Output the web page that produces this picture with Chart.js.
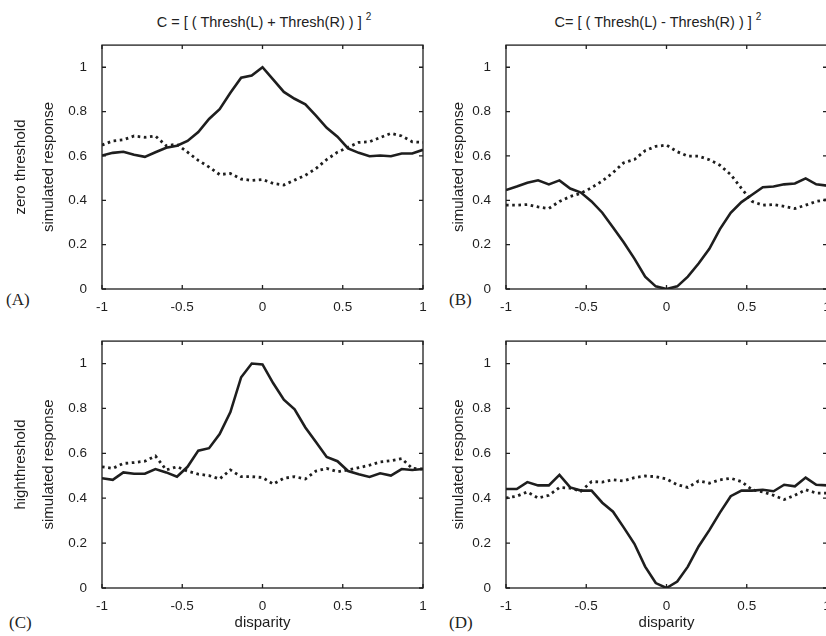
<!DOCTYPE html>
<html><head><meta charset="utf-8">
<script src="https://cdn.jsdelivr.net/npm/chart.js@4"></script>
<style>
html,body{margin:0;padding:0;width:826px;height:636px;overflow:hidden;background:#fff}
body{position:relative}
.cv{position:absolute}
.ttl{position:absolute;top:9px;font-family:"Liberation Sans",Arial,sans-serif;font-size:14.5px;line-height:18px;color:#222;white-space:nowrap;transform:translateX(-50%)}
.ttl sup{font-size:10px;position:relative;top:-1px}
.pl{position:absolute;font-family:"Liberation Serif","Times New Roman",serif;font-size:17px;line-height:18px;color:#222}
</style></head>
<body>
<div class="ttl" style="left:264px">C = [ ( Thresh(L) + Thresh(R) ) ] <sup>2</sup></div>
<div class="ttl" style="left:658px">C= [ ( Thresh(L) - Thresh(R) ) ] <sup>2</sup></div>
<div class="pl" style="left:6px;top:291px">(A)</div>
<div class="pl" style="left:449px;top:291px">(B)</div>
<div class="pl" style="left:9px;top:614px">(C)</div>
<div class="pl" style="left:449px;top:614px">(D)</div>
<canvas id="cA" class="cv" width="440" height="290" style="left:0;top:30px"></canvas>
<canvas id="cB" class="cv" width="400" height="290" style="left:440px;top:30px"></canvas>
<canvas id="cC" class="cv" width="440" height="310" style="left:0;top:326px"></canvas>
<canvas id="cD" class="cv" width="400" height="310" style="left:440px;top:326px"></canvas>
<script>
// ---- data ----
const disparity = [-1, -0.933, -0.867, -0.8, -0.733, -0.667, -0.6, -0.533, -0.467, -0.4, -0.333, -0.267, -0.2, -0.133, -0.067, 0, 0.067, 0.133, 0.2, 0.267, 0.333, 0.4, 0.467, 0.533, 0.6, 0.667, 0.733, 0.8, 0.867, 0.933, 1];

const sumZeroSolid  = [0.602,0.614,0.619,0.605,0.596,0.617,0.637,0.646,0.668,0.708,0.767,0.811,0.885,0.953,0.963,1.0,0.944,0.889,0.858,0.833,0.782,0.727,0.687,0.634,0.614,0.599,0.602,0.599,0.611,0.611,0.628];
const sumZeroDotted = [0.649,0.668,0.673,0.690,0.684,0.690,0.646,0.653,0.617,0.580,0.550,0.516,0.521,0.496,0.490,0.494,0.476,0.469,0.491,0.513,0.543,0.584,0.617,0.639,0.661,0.664,0.683,0.702,0.690,0.664,0.661];

const diffZeroSolid  = [0.446,0.462,0.479,0.490,0.472,0.490,0.453,0.435,0.395,0.344,0.277,0.211,0.137,0.056,0.012,0.0,0.012,0.056,0.115,0.181,0.270,0.344,0.392,0.425,0.459,0.462,0.472,0.476,0.499,0.472,0.466];
const diffZeroDotted = [0.378,0.378,0.381,0.370,0.363,0.395,0.417,0.432,0.457,0.487,0.525,0.569,0.584,0.624,0.643,0.649,0.619,0.599,0.599,0.583,0.558,0.516,0.454,0.395,0.378,0.381,0.373,0.363,0.378,0.395,0.403];

const sumHighSolid  = [0.489,0.482,0.515,0.509,0.509,0.530,0.515,0.496,0.540,0.612,0.623,0.686,0.784,0.939,1.0,0.996,0.912,0.839,0.796,0.715,0.650,0.584,0.565,0.521,0.507,0.495,0.511,0.501,0.530,0.526,0.530];
const sumHighDotted = [0.540,0.533,0.555,0.559,0.565,0.588,0.526,0.540,0.521,0.507,0.501,0.486,0.526,0.496,0.496,0.492,0.463,0.489,0.496,0.486,0.521,0.533,0.518,0.526,0.536,0.547,0.562,0.567,0.576,0.533,0.530];

const diffHighSolid  = [0.441,0.441,0.472,0.457,0.457,0.504,0.448,0.434,0.434,0.380,0.340,0.270,0.197,0.095,0.022,0.0,0.029,0.095,0.185,0.258,0.336,0.409,0.434,0.434,0.438,0.431,0.460,0.453,0.492,0.460,0.457];
const diffHighDotted = [0.401,0.409,0.428,0.401,0.413,0.448,0.445,0.431,0.474,0.472,0.482,0.477,0.492,0.499,0.496,0.486,0.460,0.448,0.477,0.467,0.482,0.489,0.474,0.438,0.428,0.413,0.394,0.413,0.438,0.423,0.423];

const xTicks = [-1, -0.5, 0, 0.5, 1];
const yTicks = [0, 0.2, 0.4, 0.6, 0.8, 1];
const yLabelLeftA = ['zero threshold', 'simulated response'];
const yLabelLeftC = ['highthreshold', 'simulated response'];
const yLabelRight = 'simulated response';
const xLabel = 'disparity';

// ---- rendering ----
const INK = '#1e1e1e';
const TICKLEN = 4;
const sans = '"Liberation Sans", Arial, sans-serif';

const framePlugin = {
  id: 'frame',
  afterDatasetsDraw(chart) {
    const {ctx, chartArea: {left, right, top, bottom}, scales: {x, y}} = chart;
    ctx.save();
    ctx.strokeStyle = INK;
    ctx.lineWidth = 1.3;
    ctx.strokeRect(left, top, right - left, bottom - top);
    ctx.beginPath();
    xTicks.forEach(v => {
      const px = x.getPixelForValue(v);
      ctx.moveTo(px, bottom); ctx.lineTo(px, bottom - TICKLEN);
      ctx.moveTo(px, top); ctx.lineTo(px, top + TICKLEN);
    });
    yTicks.forEach(v => {
      const py = y.getPixelForValue(v);
      ctx.moveTo(left, py); ctx.lineTo(left + TICKLEN, py);
      ctx.moveTo(right, py); ctx.lineTo(right - TICKLEN, py);
    });
    ctx.stroke();
    ctx.restore();
  }
};

function pts(arr) { return disparity.map((d, i) => ({x: d, y: arr[i]})); }

function makePanel(id, solid, dotted, g) {
  new Chart(document.getElementById(id), {
    type: 'line',
    data: {
      datasets: [
        {data: pts(solid), borderColor: INK, borderWidth: 2.6, pointRadius: 0, tension: 0, fill: false},
        {data: pts(dotted), borderColor: INK, borderWidth: 2.8, borderDash: [2.6, 3.6], borderCapStyle: 'butt', pointRadius: 0, tension: 0, fill: false}
      ]
    },
    options: {
      responsive: false,
      animation: false,
      events: [],
      layout: {padding: {left: 0, top: g.padTop, right: g.padRight, bottom: 0}},
      plugins: {legend: {display: false}, tooltip: {enabled: false}, title: {display: false}},
      scales: {
        x: {
          type: 'linear', min: -1, max: 1,
          grid: {display: false}, border: {display: false},
          afterBuildTicks: s => { s.ticks = xTicks.map(v => ({value: v})); },
          afterFit: s => { s.height = g.xHeight; },
          ticks: {color: INK, padding: 2, maxRotation: 0, autoSkip: false, font: {family: sans, size: 13.5}, callback: v => String(v)},
          title: g.xTitle ? {display: true, text: g.xTitle, color: INK, font: {family: sans, size: 15, lineHeight: 1.2}, padding: {top: 0, bottom: 4}} : {display: false}
        },
        y: {
          type: 'linear', min: 0, max: 1.1,
          grid: {display: false}, border: {display: false},
          afterBuildTicks: s => { s.ticks = yTicks.map(v => ({value: v})); },
          afterFit: s => { s.width = g.yWidth; },
          ticks: {color: INK, padding: 7, autoSkip: false, font: {family: sans, size: 13.5}, callback: v => String(v)},
          title: {display: true, text: g.yTitle, color: INK,
                  font: {family: sans, size: 15, lineHeight: Array.isArray(g.yTitle) ? 28 / 15 : 1.2},
                  padding: {top: g.yTitlePad, bottom: 0}}
        }
      }
    },
    plugins: [framePlugin]
  });
}

makePanel('cA', sumZeroSolid, sumZeroDotted, {padTop: 11, padRight: 17, yWidth: 102, xHeight: 31, yTitle: yLabelLeftA, yTitlePad: 7});
makePanel('cB', diffZeroSolid, diffZeroDotted, {padTop: 11, padRight: 13, yWidth: 66, xHeight: 31, yTitle: yLabelRight, yTitlePad: 10});
makePanel('cC', sumHighSolid, sumHighDotted, {padTop: 12, padRight: 17, yWidth: 102, xHeight: 48, yTitle: yLabelLeftC, yTitlePad: 7, xTitle: xLabel});
makePanel('cD', diffHighSolid, diffHighDotted, {padTop: 12, padRight: 13, yWidth: 66, xHeight: 48, yTitle: yLabelRight, yTitlePad: 10, xTitle: xLabel});
</script>
</body></html>
